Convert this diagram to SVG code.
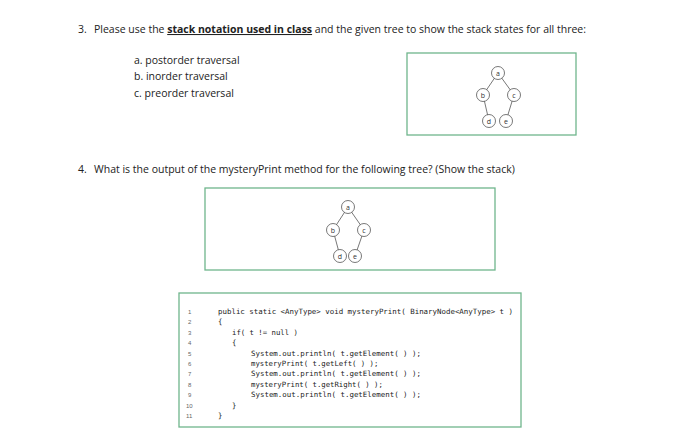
<svg xmlns="http://www.w3.org/2000/svg" width="700" height="446" viewBox="0 0 700 446">
<style>
text{font-family:"Open Sans","Liberation Sans",sans-serif;font-size:10.5px;fill:#222}
.box{fill:none;stroke:#6fb58c;stroke-width:1.3}
.n circle{fill:#fff;stroke:#555;stroke-width:0.8}
.n text{font-size:7px;text-anchor:middle;fill:#333}
.e line{stroke:#555;stroke-width:0.8}
.code{font-family:"DejaVu Sans Mono","Liberation Mono",monospace;font-size:7.3px;fill:#222}
.ln{font-family:"Liberation Sans",sans-serif;font-size:6px;fill:#666}
</style>
<rect width="700" height="446" fill="#fff"/>
<text x="78" y="33">3.</text>
<text x="94" y="33">Please use the <tspan font-weight="bold" text-decoration="underline">stack notation used in class</tspan> and the given tree to show the stack states for all three:</text>
<text x="134" y="64">a. postorder traversal</text>
<text x="134" y="80">b. inorder traversal</text>
<text x="134" y="97">c. preorder traversal</text>
<text x="78" y="173">4.</text>
<text x="94" y="173">What is the output of the mysteryPrint method for the following tree? (Show the stack)</text>
<rect class="box" x="407" y="53" width="169" height="82"/>
<g class="e">
<line x1="498" y1="73" x2="483" y2="95"/><line x1="498" y1="73" x2="514" y2="95"/>
<line x1="483" y1="95" x2="489" y2="121"/><line x1="514" y1="95" x2="506" y2="121"/>
</g>
<g id="t1a" class="n"><circle cx="498" cy="73" r="6.5"/><text x="498" y="75.5">a</text></g>
<g id="t1b" class="n"><circle cx="483" cy="95" r="6.5"/><text x="483" y="97.5">b</text></g>
<g id="t1c" class="n"><circle cx="514" cy="95" r="6.5"/><text x="514" y="97.5">c</text></g>
<g id="t1d" class="n"><circle cx="489" cy="121" r="6.5"/><text x="489" y="123.5">d</text></g>
<g id="t1e" class="n"><circle cx="506" cy="121" r="6.5"/><text x="506" y="123.5">e</text></g>
<rect class="box" x="205" y="188" width="290" height="82"/>
<g class="e">
<line x1="348" y1="207" x2="333" y2="230"/><line x1="348" y1="207" x2="364" y2="230"/>
<line x1="333" y1="230" x2="340" y2="256"/><line x1="364" y1="230" x2="355" y2="256"/>
</g>
<g id="t2a" class="n"><circle cx="348" cy="207" r="6.5"/><text x="348" y="209.5">a</text></g>
<g id="t2b" class="n"><circle cx="333" cy="230" r="6.5"/><text x="333" y="232.5">b</text></g>
<g id="t2c" class="n"><circle cx="364" cy="230" r="6.5"/><text x="364" y="232.5">c</text></g>
<g id="t2d" class="n"><circle cx="340" cy="256" r="6.5"/><text x="340" y="258.5">d</text></g>
<g id="t2e" class="n"><circle cx="355" cy="256" r="6.5"/><text x="355" y="258.5">e</text></g>
<rect class="box" x="179" y="293" width="342" height="134"/>
<g>
<text class="ln" x="188" y="314">1</text><text class="ln" x="188" y="324.4">2</text><text class="ln" x="188" y="334.8">3</text><text class="ln" x="188" y="345.2">4</text><text class="ln" x="188" y="355.6">5</text><text class="ln" x="188" y="366">6</text><text class="ln" x="188" y="376.4">7</text><text class="ln" x="188" y="386.8">8</text><text class="ln" x="188" y="397.2">9</text><text class="ln" x="186" y="407.6">10</text><text class="ln" x="186" y="418">11</text>
<text class="code" x="218" y="314" textLength="295" lengthAdjust="spacingAndGlyphs">public static &lt;AnyType&gt; void mysteryPrint( BinaryNode&lt;AnyType&gt; t )</text>
<text class="code" x="218" y="324.4">{</text>
<text class="code" x="232" y="334.8">if( t != null )</text>
<text class="code" x="232" y="345.2">{</text>
<text class="code" x="251" y="355.6" textLength="170" lengthAdjust="spacingAndGlyphs">System.out.println( t.getElement( ) );</text>
<text class="code" x="251" y="366">mysteryPrint( t.getLeft( ) );</text>
<text class="code" x="251" y="376.4" textLength="170" lengthAdjust="spacingAndGlyphs">System.out.println( t.getElement( ) );</text>
<text class="code" x="251" y="386.8">mysteryPrint( t.getRight( ) );</text>
<text class="code" x="251" y="397.2" textLength="170" lengthAdjust="spacingAndGlyphs">System.out.println( t.getElement( ) );</text>
<text class="code" x="232" y="407.6">}</text>
<text class="code" x="218" y="418">}</text>
</g>
</svg>
